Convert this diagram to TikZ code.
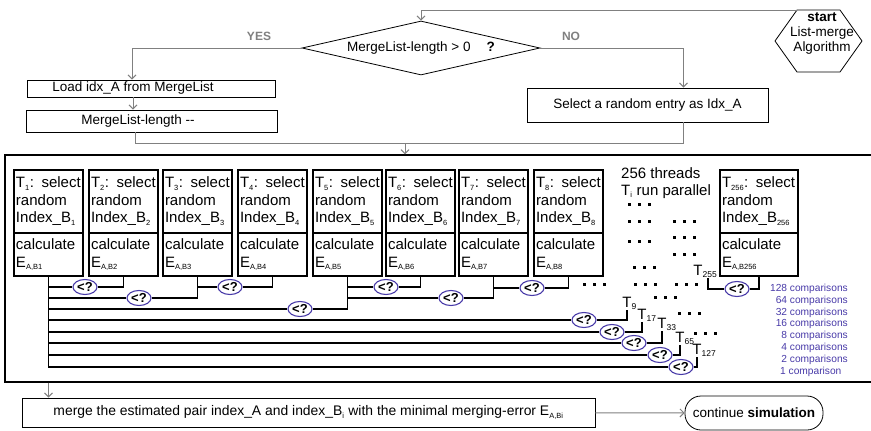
\documentclass[tikz,border=0pt]{standalone}
\usepackage{fontspec}
\setmainfont{Liberation Sans}
\usetikzlibrary{arrows.meta, shapes.geometric, positioning}
\definecolor{flowgray}{RGB}{128,128,128}
\definecolor{cmpblue}{RGB}{72,58,168}
\newcommand{\tsub}[1]{\textsubscript{\fontsize{7.5}{7.5}\selectfont #1}}
\newcommand{\tlabsub}[1]{\rlap{\smash{\textsubscript{\fontsize{8.5}{8.5}\selectfont #1}}}}

\begin{document}
\begin{tikzpicture}[x=1pt, y=-1pt,
  line/.style={draw=flowgray, line width=1pt},
  flow/.style={line, -{Straight Barb[length=4pt, width=8pt]}},
  proc/.style={draw, line width=0.8pt, inner sep=0pt, font=\fontsize{13.5}{16}\selectfont},
  selbox/.style={draw, line width=1.1pt, outer sep=0pt, anchor=north west, minimum width=69pt, minimum height=63pt, text width=65pt, align=left, inner xsep=2pt, font=\fontsize{15}{17.5}\selectfont},
  calcbox/.style={selbox, minimum height=43pt},
  cmp/.style={ellipse, draw=cmpblue, line width=1.1pt, fill=white, inner sep=0pt, minimum width=24pt, minimum height=15pt, font=\bfseries\fontsize{13}{13}\selectfont},
  br/.style={line width=1.1pt},
  tlab/.style={anchor=south, inner xsep=0pt, inner ysep=2.5pt, font=\fontsize{15}{15}\selectfont},
  cmptext/.style={text=cmpblue, inner sep=0pt, font=\fontsize{10.2}{12}\selectfont},
  answer/.style={text=flowgray, font=\bfseries\fontsize{12}{12}\selectfont}]

\useasboundingbox (0,0) rectangle (871,431);

\node[minimum width=43pt, minimum height=62pt, inner sep=0pt, outer sep=0pt] (start) at (818.5,41) {};
\draw[line width=0.8pt] (start.north west) -- (start.north east) -- ([xshift=22pt]start.east) -- (start.south east) -- (start.south west) -- ([xshift=-22pt]start.west) -- cycle;
\node[align=center, inner sep=0pt, font=\fontsize{13.5}{15}\selectfont] (starttxt) at (822,33) {\textbf{start}\\List-merge\\Algorithm};
\node[draw, diamond, aspect=4.4, minimum width=238pt, minimum height=54pt, inner sep=0pt, line width=0.8pt, font=\fontsize{13.5}{16}\selectfont] (dec) at (421,48) {MergeList-length > 0\hspace{16pt}\textbf{?}};
\node[answer] (yes) at (259,36) {YES};
\node[answer] (no) at (571,36) {NO};
\node[proc, minimum width=248pt, minimum height=17pt] (load) at (151,88.5) {Load idx\_A from MergeList\hspace*{36pt}};
\node[proc, minimum width=251pt, minimum height=22pt] (len) at (151.5,121) {MergeList-length -{}-\hspace*{27pt}};
\node[proc, minimum width=241pt, minimum height=34pt] (rnd) at (647.5,105) {Select a random entry as Idx\_A};
\coordinate (join) at (405,143);

\node[draw, line width=1.2pt, minimum width=870pt, minimum height=227pt, inner sep=0pt] (frame) at (440,268.5) {};

\foreach \i/\x in {1/14,2/89,3/163,4/238,5/313,6/386,7/459,8/534} {
  \node[selbox] (s\i) at (\x,170) {T\tsub{\i}: select\\random\\Index\_B\tsub{\i}};
  \node[calcbox, below=0pt of s\i] (c\i) {calculate\\E\tsub{A,B\i}};
}
\node[selbox, minimum width=78pt, text width=74pt] (s256) at (720,170) {T\tsub{256}: select\\random\\Index\_B\tsub{256}};
\node[calcbox, minimum width=78pt, text width=74pt, below=0pt of s256] (c256) {calculate\\E\tsub{A,B256}};

\node[anchor=north west, align=left, inner sep=0pt, font=\fontsize{15}{17}\selectfont] (par) at (621,167) {256 threads\\T\tsub{i} run parallel};
\foreach \p in {(639,204),(639,221),(639,241),(644,267),(645,284),(684,221),(684,237),(684,254),(686,284),(594,284),(665,297),(689,313),(705,333)}
  \foreach \dx in {-10,0,10}
    \fill \p ++(\dx-1.5,-1.5) rectangle ++(3,3);

\node[cmp] (k12) at (85,287) {<?};
\node[cmp] (k34) at (230,287) {<?};
\node[cmp] (k56) at (386,287) {<?};
\node[cmp] (k78) at (532,288) {<?};
\node[cmp] (k14) at (139,298) {<?};
\node[cmp] (k58) at (451,298) {<?};
\node[cmp] (k18) at (300,309) {<?};
\node[cmp] (k9) at (584,320) {<?};
\node[cmp] (k17) at (612,332) {<?};
\node[cmp] (k33) at (634,343) {<?};
\node[cmp] (k65) at (660,355) {<?};
\node[cmp] (k127) at (681,367) {<?};
\node[cmp] (k255) at (737,289) {<?};

\node[tlab] (t9) at (627,310) {T\tlabsub{9}};
\node[tlab] (t17) at (642,322) {T\tlabsub{17}};
\node[tlab] (t33) at (662,331) {T\tlabsub{33}};
\node[tlab] (t65) at (680,345) {T\tlabsub{65}};
\node[tlab] (t127) at (697,357) {T\tlabsub{127}};
\node[tlab] (t255) at (698,278) {T\tlabsub{255}};

\foreach \n [count=\k] in {128,64,32,16,8,4,2}
  \node[cmptext, anchor=east] (n\k) at (848,{277+11.8*\k}) {\n{} comparisons};
\node[cmptext, anchor=west] (n8) at (780,371.6) {1 comparison};

\node[proc, minimum width=573pt, minimum height=29pt, font=\fontsize{13.9}{16}\selectfont] (merge) at (308.5,412.5) {merge the estimated pair index\_A and index\_B\tsub{i} with the minimal merging-error E\tsub{A,Bi}};
\node[draw, rounded corners=16pt, minimum width=138pt, minimum height=34pt, line width=0.8pt, font=\fontsize{13.5}{16}\selectfont] (cont) at (754,413) {continue \textbf{simulation}};

\draw[flow] (start.north west) -| (dec.north);
\draw[flow] (dec.west) -| ([xshift=-19pt]load.north);
\draw[flow] ([xshift=-18pt]load.south) -- ([xshift=-18pt]load.south |- len.north);
\draw[flow] (dec.east) -| ([xshift=36pt]rnd.north);
\draw[line] ([xshift=-16pt]len.south) |- (join);
\draw[line] ([xshift=36pt]rnd.south) |- (join);
\draw[flow] (join) -- (join |- frame.north);

\draw[br] (c1.south) |- (k127.west);
\draw[br] (c1.south) |- (k12.west) (k12.east) -| (c2.south);
\draw[br] (c3.south) |- (k34.west) (k34.east) -| (c4.south);
\draw[br] (c5.south) |- (k56.west) (k56.east) -| (c6.south);
\draw[br] (c7.south) |- (k78.west) (k78.east) -| (c8.south);
\draw[br] (c1.south) |- (k14.west) (k14.east) -| (c3.south);
\draw[br] (c5.south) |- (k58.west) (k58.east) -| (c7.south);
\draw[br] (c1.south) |- (k18.west) (k18.east) -| (c5.south);
\draw[br] (c1.south) |- (k9.west) (k9.east) -| (t9.south);
\draw[br] (c1.south) |- (k17.west) (k17.east) -| (t17.south);
\draw[br] (c1.south) |- (k33.west) (k33.east) -| (t33.south);
\draw[br] (c1.south) |- (k65.west) (k65.east) -| (t65.south);
\draw[br] (k127.east) -| (t127.south);
\draw[br] ([xshift=10pt]t255.south) |- (k255.west) (k255.east) -| (c256.south);

\draw[flow] (c1.south |- frame.south) -- (c1.south |- merge.north);
\draw[flow] (merge) -- (cont);

\end{tikzpicture}
\end{document}
